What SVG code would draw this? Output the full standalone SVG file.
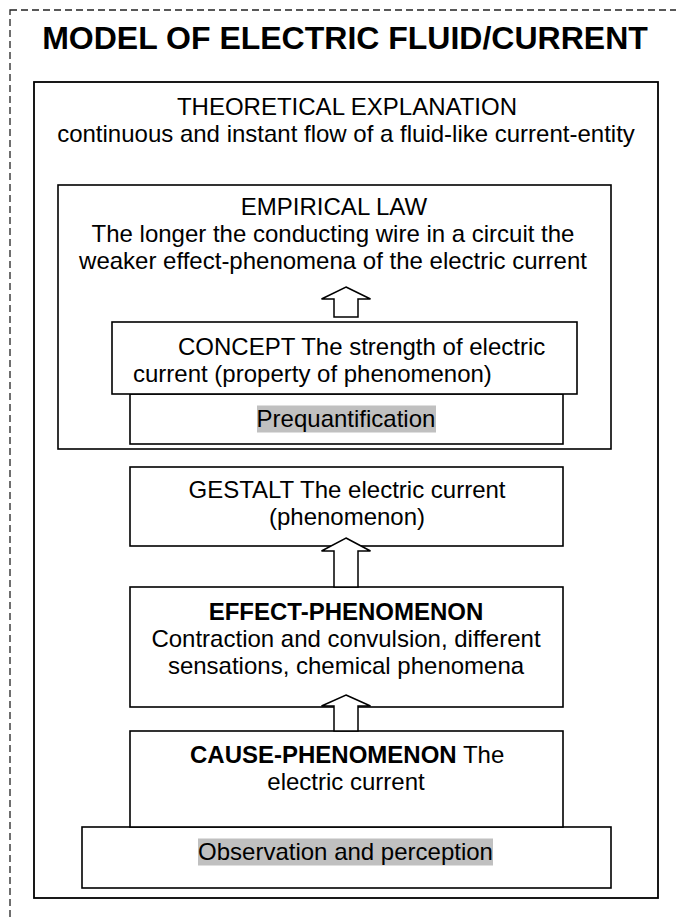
<svg xmlns="http://www.w3.org/2000/svg" width="676" height="918" viewBox="0 0 676 918">
  <style>
    .box { fill: #ffffff; stroke: #000000; stroke-width: 1.6; }
    .frame { fill: none; stroke: #000000; stroke-width: 1.8; }
    .dash { fill: none; stroke: #222222; stroke-width: 1.3; stroke-dasharray: 7 4; }
    .t { font-family: "Liberation Sans", Arial, sans-serif; font-size: 24px; fill: #000000; }
    .c { text-anchor: middle; }
    .b { font-weight: bold; }
    .title { font-family: "Liberation Sans", Arial, sans-serif; font-size: 32px; font-weight: bold; text-anchor: middle; fill: #000000; }
    .hl { fill: #c0c0c0; }
    .arrow { fill: #ffffff; stroke: #000000; stroke-width: 1.5; stroke-linejoin: miter; }
  </style>

  <rect width="676" height="918" fill="#ffffff"/>

  <!-- dashed surround, open to the right and bottom edges -->
  <rect class="dash" x="10" y="10" width="720" height="960"/>

  <text class="title" x="345" y="49">MODEL OF ELECTRIC FLUID/CURRENT</text>

  <g id="theory">
    <rect class="frame" x="34" y="82" width="624" height="816"/>
    <text class="t c" x="347" y="115">THEORETICAL EXPLANATION</text>
    <text class="t c" x="346" y="142">continuous and instant flow of a fluid-like current-entity</text>
  </g>

  <g id="empirical-law">
    <rect class="box" x="58" y="185" width="553" height="264"/>
    <text class="t c" x="334" y="215">EMPIRICAL LAW</text>
    <text class="t c" x="333" y="242">The longer the conducting wire in a circuit the</text>
    <text class="t c" x="333" y="269">weaker effect-phenomena of the electric current</text>
  </g>

  <g id="prequantification">
    <rect class="box" x="130" y="394" width="433" height="50"/>
    <rect class="hl" x="257" y="405.5" width="179" height="27"/>
    <text class="t c" x="346" y="427">Prequantification</text>
  </g>

  <g id="concept">
    <rect class="box" x="112" y="322" width="465" height="72"/>
    <text class="t" x="178" y="355">CONCEPT The strength of electric</text>
    <text class="t" x="133" y="382">current (property of phenomenon)</text>
  </g>

  <g id="gestalt">
    <rect class="box" x="130" y="467" width="433" height="79"/>
    <text class="t c" x="347" y="498">GESTALT The electric current</text>
    <text class="t c" x="347" y="525">(phenomenon)</text>
  </g>

  <g id="effect-phenomenon">
    <rect class="box" x="130" y="587" width="433" height="120"/>
    <text class="t c b" x="346" y="620">EFFECT-PHENOMENON</text>
    <text class="t c" x="346" y="647">Contraction and convulsion, different</text>
    <text class="t c" x="346" y="674">sensations, chemical phenomena</text>
  </g>

  <g id="observation">
    <rect class="box" x="82" y="827" width="529" height="61"/>
    <rect class="hl" x="198" y="838.5" width="295" height="27"/>
    <text class="t c" x="345.5" y="860">Observation and perception</text>
  </g>

  <g id="cause-phenomenon">
    <rect class="box" x="130" y="731" width="433" height="96"/>
    <text class="t" x="190" y="763"><tspan class="b">CAUSE-PHENOMENON</tspan> The</text>
    <text class="t c" x="346" y="790">electric current</text>
  </g>

  <g id="connectors">
    <!-- hollow block arrows pointing upward -->
    <polygon class="arrow" points="346,287 370.5,299 358,299 358,317 334,317 334,299 321.5,299"/>
    <polygon class="arrow" points="346,538 370.5,551 358,551 358,587 334,587 334,551 321.5,551"/>
    <polygon class="arrow" points="346,695 370.5,706 358,706 358,731 334,731 334,706 321.5,706"/>
  </g>
</svg>
